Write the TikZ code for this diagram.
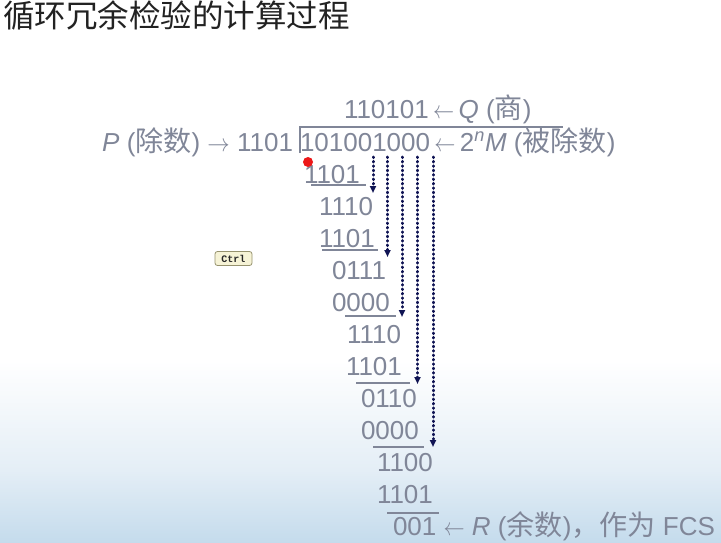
\documentclass[tikz,border=0pt]{standalone}
\usepackage{graphicx}
\usepackage{fontspec}
\setmainfont{Liberation Sans}
\newfontfamily\cjk[Scale=1.08]{Noto Sans CJK SC}
\newfontfamily\cjktitle{Noto Sans CJK SC}
\newfontfamily\monofnt{Liberation Mono}
\usetikzlibrary{arrows.meta}
\definecolor{txtgray}{RGB}{128,134,152}
\definecolor{navy}{RGB}{16,20,84}
\definecolor{titlegray}{RGB}{34,34,34}
\definecolor{skymid}{RGB}{228,238,246}
\definecolor{skyblue}{RGB}{196,219,236}
\definecolor{ctrlfill}{RGB}{246,243,214}
\definecolor{ctrlborder}{RGB}{150,146,110}
\definecolor{dotred}{RGB}{236,24,24}
\newcommand\larr{\scalebox{0.85}[1]{$\leftarrow$}}
\newcommand\rarr{\scalebox{0.9}[1]{$\rightarrow$}}
\begin{document}
\begin{tikzpicture}[x=1pt,y=-1pt,
  txt/.style={inner sep=0pt, outer sep=0pt, text=txtgray, font=\fontsize{26}{30}\selectfont, anchor=base west},
  rule/.style={draw=txtgray, line width=1.6pt},
  carry/.style={draw=navy, line width=3pt, dash pattern=on 0.6pt off 3.8pt, line cap=round, -{Triangle[length=7pt,width=6pt]}}]
\useasboundingbox (0,0) rectangle (721,543);
\fill[white] (0,0) rectangle (721,543);
\shade[top color=white, bottom color=skymid] (0,360) rectangle (721,470);
\shade[top color=skymid, bottom color=skyblue] (0,470) rectangle (721,543);

% title
\node[inner sep=0pt, anchor=base west, text=titlegray, font=\cjktitle\fontsize{31.5}{34}\selectfont] (title) at (3,28) {循环冗余检验的计算过程};

% quotient
\node[txt] (quot) at (344,119) {110101\,\larr\,\textit{Q} ({\cjk 商})};

% bracket
\coordinate (brb) at (300,153);
\coordinate (brc) at (300,127);
\coordinate (bre) at (563,127);
\draw[rule] (brb) -- (brc) -- (bre);

% divisor and dividend
\node[txt, anchor=base east] (div) at (293,151) {\textit{P} ({\cjk 除数}) \rarr{} 1101};
\node[txt] (dvd) at (300,151) {101001000};
\node[txt] (dvdlbl) at (dvd.base east) {\,\larr\,2\textsuperscript{\textit{n}}\textit{M} ({\cjk 被除数})};

% rows
\node[txt] (r1) at (304,183) {1101};
\node[txt] (r2) at (319,215) {1110};
\node[txt] (r3) at (319,247) {1101};
\node[txt] (r4) at (332,279) {0111};
\node[txt] (r5) at (332,311) {0000};
\node[txt] (r6) at (347,343) {1110};
\node[txt] (r7) at (346,375) {1101};
\node[txt] (r8) at (361,407) {0110};
\node[txt] (r9) at (361,439) {0000};
\node[txt] (r10) at (377,471) {1100};
\node[txt] (r11) at (377,503) {1101};
\node[txt] (r12) at (393,535) {001 \larr{} \textit{R} ({\cjk 余数}){\cjk ，作为} FCS};

% subtraction rules
\draw[rule] (311,185) -- (366,185);
\draw[rule] (322,250) -- (378,250);
\draw[rule] (345,316) -- (396,316);
\draw[rule] (356,383) -- (410,383);
\draw[rule] (373,447) -- (424,447);
\draw[rule] (387,513) -- (439,513);

% brought-down digits
\coordinate (c1s) at (373,157); \coordinate (c1e) at (373,193);
\coordinate (c2s) at (387.5,157); \coordinate (c2e) at (387.5,257);
\coordinate (c3s) at (402,157); \coordinate (c3e) at (402,317);
\coordinate (c4s) at (417.5,157); \coordinate (c4e) at (417.5,384);
\coordinate (c5s) at (433,157); \coordinate (c5e) at (433,447);
\draw[carry] (c1s) -- (c1e);
\draw[carry] (c2s) -- (c2e);
\draw[carry] (c3s) -- (c3e);
\draw[carry] (c4s) -- (c4e);
\draw[carry] (c5s) -- (c5e);

% pointer and tooltip
\node[circle, fill=dotred, minimum size=10pt, inner sep=0pt] (dot) at (308,162) {};
\node[draw=ctrlborder, line width=0.8pt, fill=ctrlfill, rounded corners=2.5pt, minimum width=37pt, minimum height=14pt, inner sep=0pt, font=\monofnt\bfseries\fontsize{10}{11}\selectfont, text=black!85] (ctrl) at (233.5,258.5) {Ctrl};
\end{tikzpicture}
\end{document}
